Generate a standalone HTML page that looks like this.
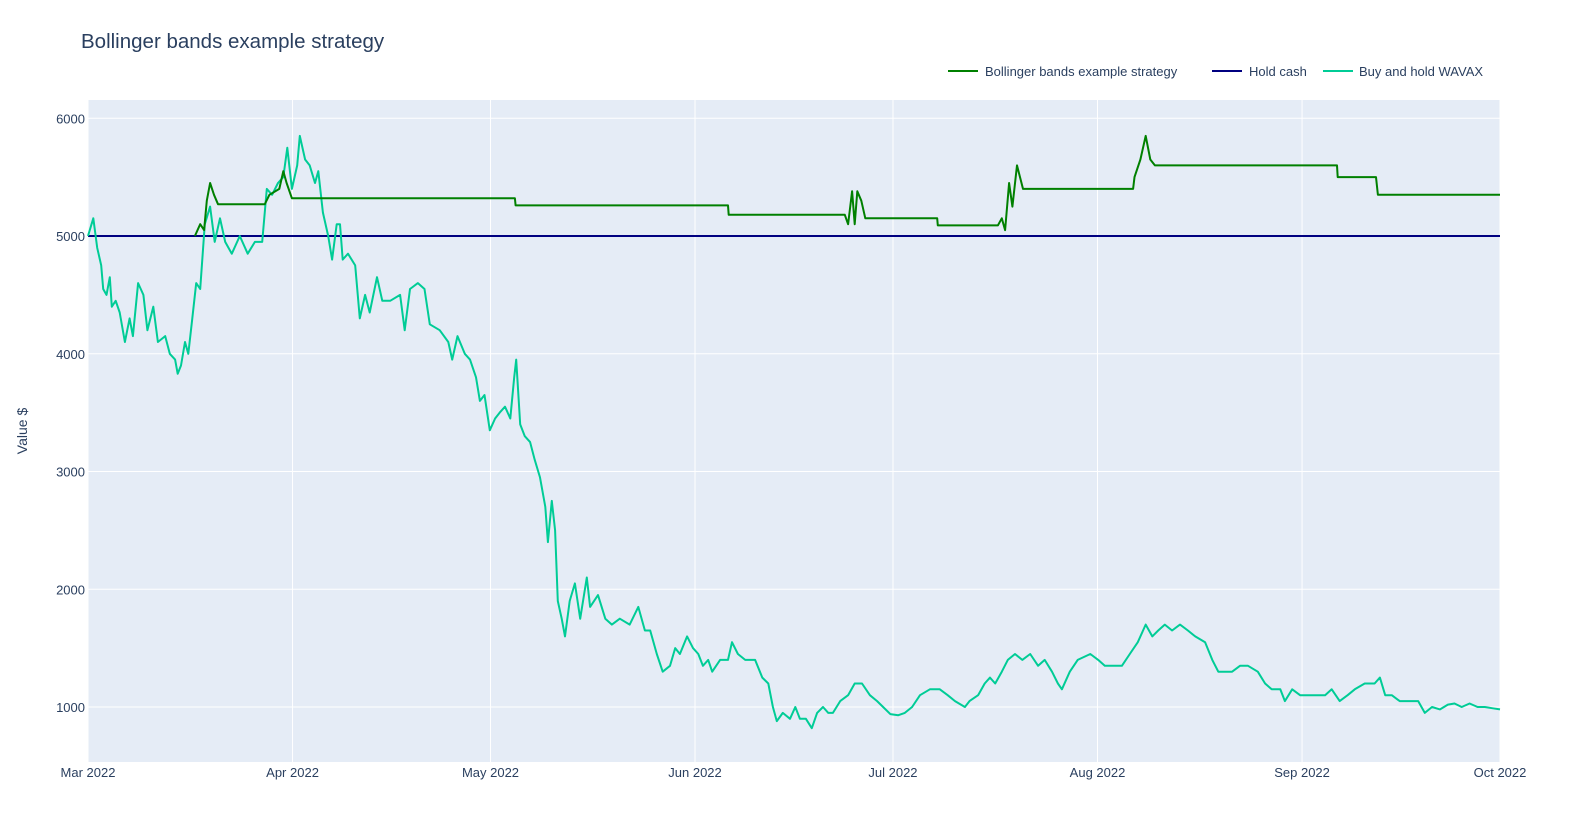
<!DOCTYPE html>
<html><head><meta charset="utf-8"><style>
body{margin:0;background:#fff;font-family:"Liberation Sans",Arial,sans-serif;}
svg text{font-family:"Liberation Sans",Arial,sans-serif;fill:#2a3f5f;}
</style></head><body>
<svg id="chart" width="1578" height="821">
<text x="81" y="48" font-size="20.5">Bollinger bands example strategy</text>
<rect x="88" y="100" width="1412" height="662" fill="#E5ECF6"/>
<g id="grid"></g><g id="series"></g><g id="axes"></g>
<g>
<g><line x1="948" y1="71" x2="978" y2="71" stroke="#008000" stroke-width="2"/><text x="985" y="76" font-size="13">Bollinger bands example strategy</text></g>
<g><line x1="1212" y1="71" x2="1242" y2="71" stroke="#000080" stroke-width="2"/><text x="1249" y="76" font-size="13">Hold cash</text></g>
<g><line x1="1323" y1="71" x2="1353" y2="71" stroke="#00CC96" stroke-width="2"/><text x="1359" y="76" font-size="13">Buy and hold WAVAX</text></g>
</g>
<text transform="translate(27,431) rotate(-90)" text-anchor="middle" font-size="14">Value $</text>
</svg>
<script>
const yTicks=[1000,2000,3000,4000,5000,6000];
const monthLabels=["Mar 2022","Apr 2022","May 2022","Jun 2022","Jul 2022","Aug 2022","Sep 2022","Oct 2022"];
const monthDays=[0,31,61,92,122,153,184,214];
const bhDays=[0,0.8,1.4,2,2.3,2.8,3.3,3.6,4.2,4.8,5.6,6.3,6.8,7.6,8.4,9,9.9,10.6,11.7,12.4,13.2,13.6,14.1,14.7,15.2,15.8,16.4,17,17.7,18.5,19.2,20,20.8,21.8,23,24.2,25.3,26.4,27.1,27.9,28.8,29.6,30.2,30.9,31.7,32.1,32.9,33.6,34.4,34.9,35.6,36.4,37,37.7,38.2,38.6,39.4,40.5,41.2,42,42.7,43.8,44.6,45.8,47.3,48,48.8,50,51,51.8,53.3,54.6,55.2,56,57.1,57.9,58.8,59.4,60.1,60.9,61.7,62.4,63.2,64,64.6,64.9,65.5,66.2,67,67.7,68.5,69.3,69.7,70.3,70.8,71.2,71.8,72.3,73,73.8,74.6,75.6,76.1,77.3,78.4,79.4,80.6,82.1,83.4,84.4,85.2,86.2,87.1,88.2,89,89.7,90.8,91.7,92.5,93.2,94,94.6,95.8,97,97.6,98.5,99.6,101.1,102.2,103.1,103.8,104.4,105.3,106.4,107.2,107.9,108.8,109.7,110.5,111.4,112.2,112.9,114,115.2,116.2,117.3,118.5,119.6,120.5,121.6,122.8,123.8,124.9,126.1,127.6,129.1,130.3,131.4,132.9,133.6,134.9,135.9,136.7,137.5,138.5,139.4,140.5,141.6,142.8,144,145,146.1,147,147.6,148.8,150,151.9,153.1,154.1,155.7,156.7,157.9,159.1,160.3,161.3,162.2,163.2,164.3,165.5,166.7,167.8,169.3,170.4,171.3,172.3,173.4,174.6,175.8,177.3,178.4,179.4,180.7,181.4,182.5,183.7,185.2,186.4,187.5,188.5,189.7,190.9,192,193.5,195,195.8,196.6,197.6,198.8,200.4,201.6,202.6,203.7,204.9,206.1,207.1,208.2,209.4,210.6,211.7,212.8,214];
const bhValues=[5000,5150,4900,4750,4550,4500,4650,4400,4450,4350,4100,4300,4150,4600,4500,4200,4400,4100,4150,4000,3950,3830,3900,4100,4000,4300,4600,4550,5100,5250,4950,5150,4950,4850,5000,4850,4950,4950,5400,5350,5450,5500,5750,5400,5600,5850,5650,5600,5450,5550,5200,5000,4800,5100,5100,4800,4850,4750,4300,4500,4350,4650,4450,4450,4500,4200,4550,4600,4550,4250,4200,4100,3950,4150,4000,3950,3800,3600,3650,3350,3450,3500,3550,3450,3800,3950,3400,3300,3250,3100,2950,2700,2400,2750,2500,1900,1750,1600,1900,2050,1750,2100,1850,1950,1750,1700,1750,1700,1850,1650,1650,1450,1300,1350,1500,1450,1600,1500,1450,1350,1400,1300,1400,1400,1550,1450,1400,1400,1250,1200,1000,880,950,900,1000,900,900,820,950,1000,950,950,1050,1100,1200,1200,1100,1050,1000,940,930,950,1000,1100,1150,1150,1100,1050,1000,1050,1100,1200,1250,1200,1300,1400,1450,1400,1450,1350,1400,1300,1200,1150,1300,1400,1450,1400,1350,1350,1350,1450,1550,1700,1600,1650,1700,1650,1700,1650,1600,1550,1400,1300,1300,1300,1350,1350,1300,1200,1150,1150,1050,1150,1100,1100,1100,1100,1150,1050,1100,1150,1200,1200,1250,1100,1100,1050,1050,1050,950,1000,980,1020,1030,1000,1030,1000,1000,990,980];
const stDays=[16.2,17,17.6,18,18.5,19.1,19.7,26.8,27.5,29,29.6,30.1,30.9,64.7,64.8,97,97.1,114.7,115.2,115.8,116.2,116.6,117.2,117.8,128.7,128.8,137.9,138.5,139,139.6,140.1,140.8,141.7,158.4,158.6,159.5,160.3,161,161.7,189.3,189.4,195.2,195.5,214];
const stValues=[5000,5100,5050,5300,5450,5350,5270,5270,5350,5400,5550,5450,5320,5320,5260,5260,5180,5180,5100,5380,5100,5380,5300,5150,5150,5090,5090,5150,5050,5450,5250,5600,5400,5400,5500,5650,5850,5650,5600,5600,5500,5500,5350,5350];
const cashDays=[0,214];
const cashValues=[5000,5000];

const X0=88,X1=1500,Y0=762,Y1=100,D0=0,D1=214,V0=5000-(762-236)/0.11775,V1=5000+(236-100)/0.11775;
const xs=d=>X0+(d-D0)/(D1-D0)*(X1-X0);
const ys=v=>Y0-(v-V0)/(V1-V0)*(Y0-Y1);
const NS="http://www.w3.org/2000/svg";
const grid=document.getElementById('grid'),axes=document.getElementById('axes'),ser=document.getElementById('series');
yTicks.forEach(t=>{
 const l=document.createElementNS(NS,'line');
 l.setAttribute('x1',X0);l.setAttribute('x2',X1);l.setAttribute('y1',ys(t));l.setAttribute('y2',ys(t));
 l.setAttribute('stroke','#fff');l.setAttribute('stroke-width','1');
 
 
 grid.appendChild(l);
 const tx=document.createElementNS(NS,'text');
 tx.setAttribute('x',X0-3);tx.setAttribute('y',ys(t)+5);tx.setAttribute('text-anchor','end');tx.setAttribute('font-size','13');
 tx.textContent=t;
 
 
 axes.appendChild(tx);
});
monthDays.forEach((d,i)=>{
 const l=document.createElementNS(NS,'line');
 l.setAttribute('x1',xs(d));l.setAttribute('x2',xs(d));l.setAttribute('y1',Y1);l.setAttribute('y2',Y0);
 l.setAttribute('stroke','#fff');l.setAttribute('stroke-width','1');
 
 
 grid.appendChild(l);
 const tx=document.createElementNS(NS,'text');
 tx.setAttribute('x',xs(d));tx.setAttribute('y',777);tx.setAttribute('text-anchor','middle');tx.setAttribute('font-size','13');
 tx.textContent=monthLabels[i];
 
 
 axes.appendChild(tx);
});
function line(days,vals,color,name,w){
 const p=document.createElementNS(NS,'polyline');
 p.setAttribute('points',days.map((d,i)=>xs(d).toFixed(1)+','+ys(vals[i]).toFixed(1)).join(' '));
 p.setAttribute('fill','none');p.setAttribute('stroke',color);p.setAttribute('stroke-width',w);p.setAttribute('stroke-linejoin','round');
 
 
 ser.appendChild(p);
}
line(cashDays,cashValues,'#000080','hold-cash-line',2);
line(bhDays,bhValues,'#00CC96','buy-hold-wavax-line',2);
line(stDays,stValues,'#008000','strategy-line',2);
</script>
</body></html>
